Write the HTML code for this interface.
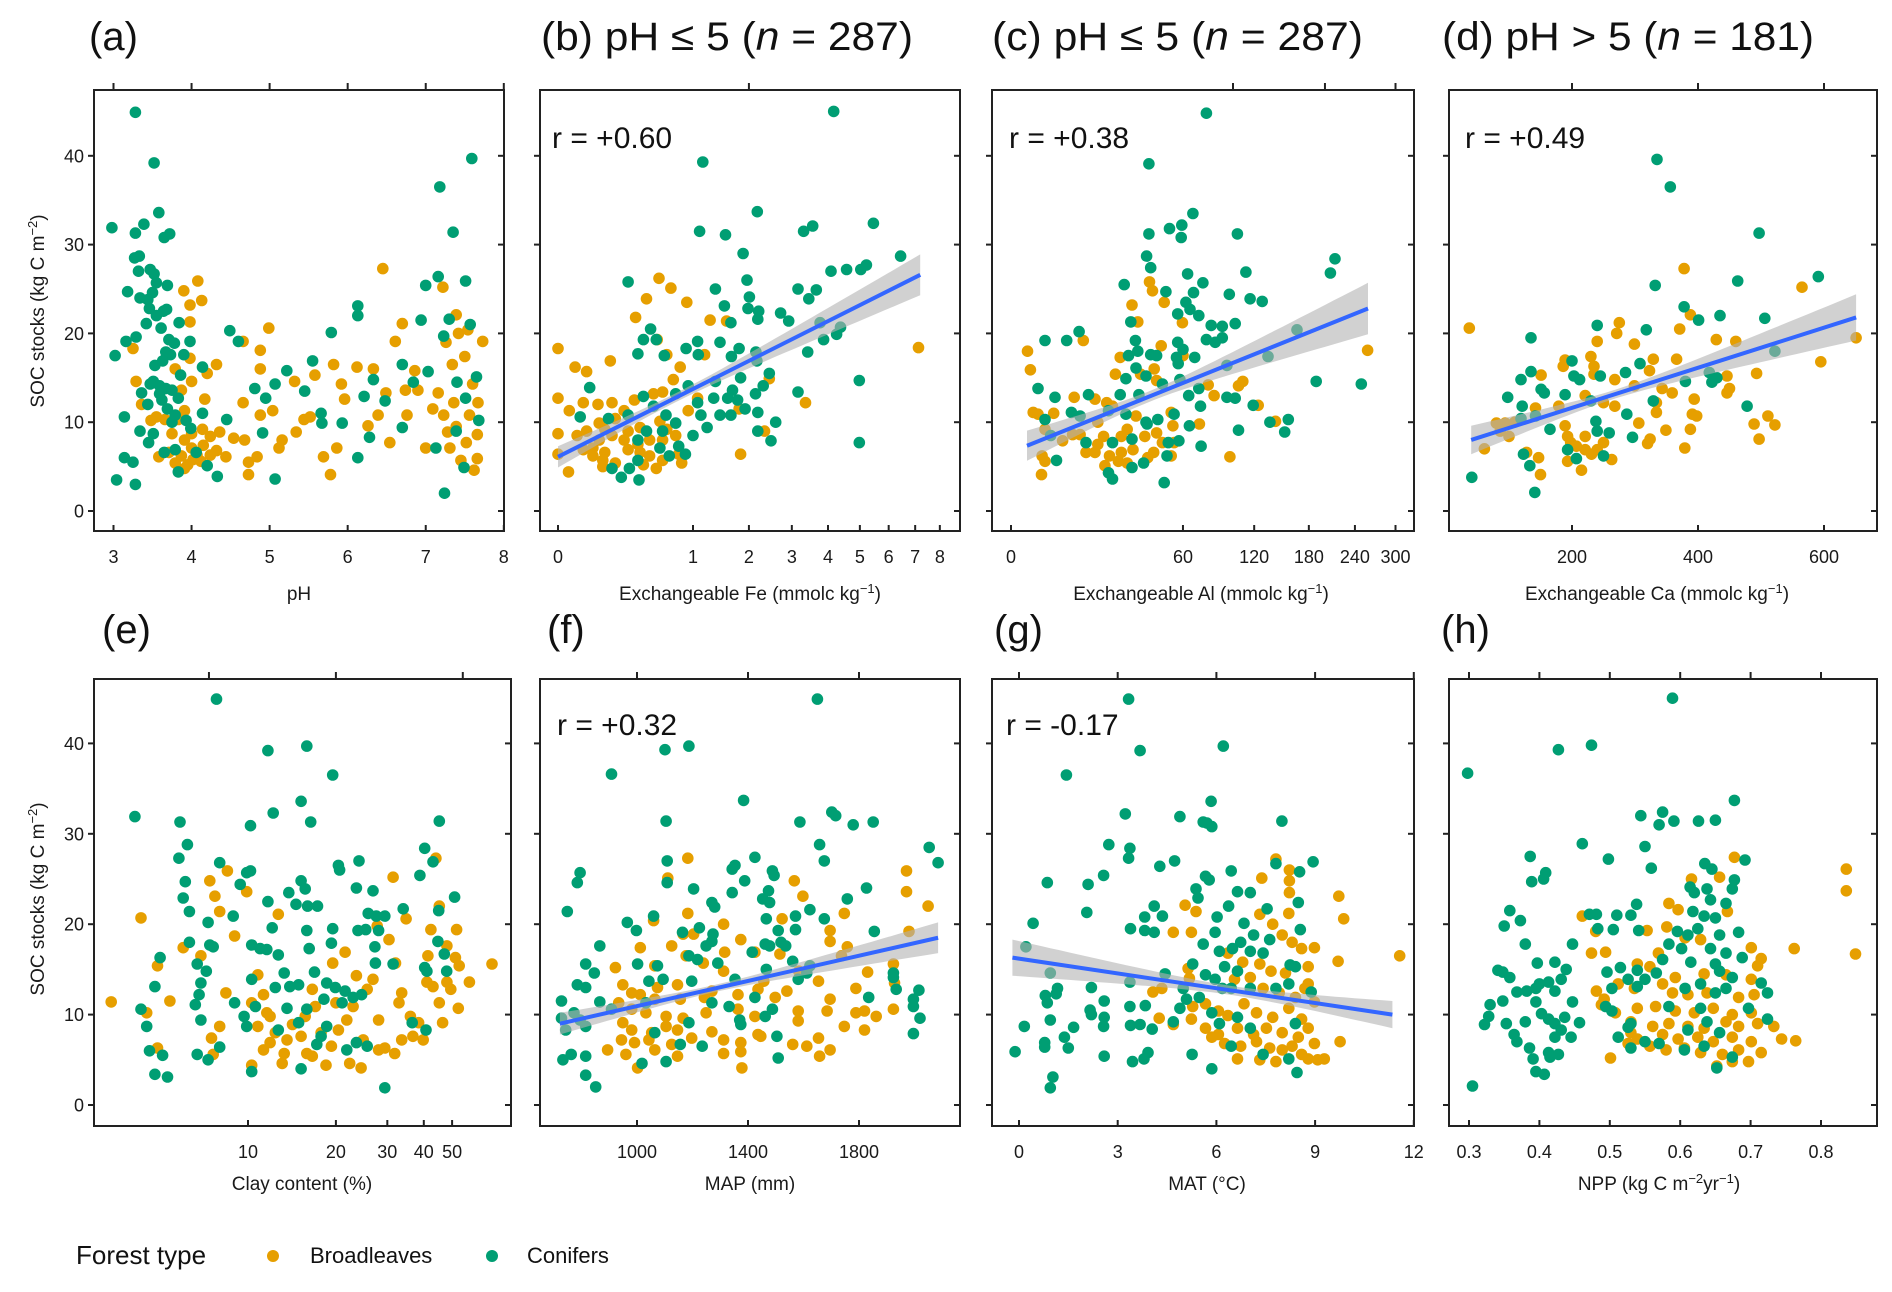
<!DOCTYPE html>
<html><head><meta charset="utf-8"><title>SOC stocks vs soil and climate variables</title>
<style>
html,body{margin:0;padding:0;background:#fff;}
svg{display:block;font-family:"Liberation Sans",Arial,sans-serif;}
</style></head>
<body>
<svg id="fig" width="1892" height="1292" viewBox="0 0 1892 1292" xmlns="http://www.w3.org/2000/svg">
<rect x="0" y="0" width="1892" height="1292" fill="#fff"/>
<g font-size="40" fill="#111">
<text x="89" y="50">(a)</text>
<text x="541" y="50" textLength="372" lengthAdjust="spacingAndGlyphs">(b) pH ≤ 5 (<tspan font-style="italic">n</tspan> = 287)</text>
<text x="992" y="50" textLength="371" lengthAdjust="spacingAndGlyphs">(c) pH ≤ 5 (<tspan font-style="italic">n</tspan> = 287)</text>
<text x="1442" y="50" textLength="372" lengthAdjust="spacingAndGlyphs">(d) pH &gt; 5 (<tspan font-style="italic">n</tspan> = 181)</text>
<text x="102" y="643">(e)</text>
<text x="547" y="643">(f)</text>
<text x="994" y="643">(g)</text>
<text x="1441" y="643">(h)</text>
</g>
<g font-size="30" fill="#111">
<text x="552" y="148">r = +0.60</text>
<text x="1009" y="148">r = +0.38</text>
<text x="1465" y="148">r = +0.49</text>
<text x="557" y="735">r = +0.32</text>
<text x="1006" y="735">r = -0.17</text>
</g>
<g font-size="19" fill="#1a1a1a" text-anchor="middle">
<text x="299" y="600">pH</text>
<text x="750" y="600">Exchangeable Fe (mmolc kg<tspan dy="-7" font-size="13">−1</tspan><tspan dy="7">)</tspan></text>
<text x="1201" y="600">Exchangeable Al (mmolc kg<tspan dy="-7" font-size="13">−1</tspan><tspan dy="7">)</tspan></text>
<text x="1657" y="600">Exchangeable Ca (mmolc kg<tspan dy="-7" font-size="13">−1</tspan><tspan dy="7">)</tspan></text>
<text x="302" y="1190">Clay content (%)</text>
<text x="750" y="1190">MAP (mm)</text>
<text x="1207" y="1190">MAT (°C)</text>
<text x="1659" y="1190">NPP (kg C m<tspan dy="-7" font-size="13">−2</tspan><tspan dy="7">yr</tspan><tspan dy="-7" font-size="13">−1</tspan><tspan dy="7">)</tspan></text>
<text transform="translate(44,311) rotate(-90)">SOC stocks (kg C m<tspan dy="-7" font-size="13">−2</tspan><tspan dy="7">)</tspan></text>
<text transform="translate(44,899) rotate(-90)">SOC stocks (kg C m<tspan dy="-7" font-size="13">−2</tspan><tspan dy="7">)</tspan></text>
</g>
<g>
<text x="76" y="1264" font-size="26" fill="#111">Forest type</text>
<circle cx="273" cy="1256" r="6" fill="#E69F00"/>
<text x="310" y="1263" font-size="22" fill="#111">Broadleaves</text>
<circle cx="492" cy="1256" r="6" fill="#009E73"/>
<text x="527" y="1263" font-size="22" fill="#111">Conifers</text>
</g>
<g id="plots"></g>
</svg>
<script>
// ---------- data (data units) ----------
const yTicks = [0,10,20,30,40];
const aTicks = [3,4,5,6,7,8];
const bTicks = [0,1,2,3,4,5,6,7,8];
const bTopTicks = [2];
const cTicks = [0,60,120,180,240,300];
const cTopTicks = [100,200,300];
const dTicks = [200,400,600];
const eTicks = [10,20,30,40,50];
const eTopTicks = [7.35,20,54.4];
const fTicks = [1000,1400,1800];
const gTicks = [0,3,6,9,12];
const hTicks = [0.3,0.4,0.5,0.6,0.7,0.8];

const aCon = [[3.28,44.9],[3.52,39.2],[2.98,31.9],[3.28,31.3],[3.39,32.3],[3.58,33.6],[3.65,30.8],[3.72,31.2],[3.27,28.5],[3.33,28.7],[3.32,27],[3.47,27.2],[3.52,26.7],[3.18,24.7],[3.34,24],[3.44,23.8],[3.5,24.6],[3.55,25.7],[3.69,25.4],[3.46,22.8],[3.55,22],[3.64,22.5],[3.68,22.7],[3.42,21.1],[3.61,20.6],[3.84,21.2],[3.16,19.1],[3.29,19.6],[3.71,19.3],[3.78,18.9],[3.98,19.1],[3.02,17.5],[3.67,17.9],[3.73,17.6],[3.53,16.4],[3.63,16.9],[3.9,17.6],[4.14,16.2],[3.51,14.6],[3.59,14.1],[3.47,14.3],[3.67,13.8],[3.86,15.3],[3.36,13.3],[3.62,12.5],[3.44,12],[3.69,11.5],[3.79,10.8],[3.14,10.6],[3.34,9],[3.51,8.7],[3.45,7.7],[3.65,6.6],[3.79,6.9],[3.14,6],[3.25,5.5],[3.04,3.5],[3.28,3],[3.83,4.4],[4.06,6.6],[4.2,5.1],[4.33,3.9],[4.49,20.3],[4.6,19.1],[4.14,11],[4.45,10.3],[4.81,13.8],[4.95,12.7],[5.07,14.3],[4.91,8.8],[5.07,3.6],[5.22,15.8],[5.55,16.9],[5.45,13.5],[5.66,11],[5.67,9.9],[5.79,20.1],[5.93,9.9],[6.13,22],[6.13,23.1],[6.13,6],[6.21,12.9],[6.28,8.3],[6.33,14.8],[6.48,12.4],[6.7,16.5],[6.7,9.4],[6.84,14.5],[6.94,21.5],[7,25.4],[7.03,15.7],[7.16,26.4],[7.18,36.5],[7.23,19.7],[7.24,2],[7.3,21.6],[7.35,31.4],[7.51,25.9],[7.57,21],[7.59,39.7],[7.65,15.1],[7.68,10.2],[7.13,7.1],[7.39,9],[7.49,4.9],[7.4,14.5],[7.51,12.7],[3.59,13.2],[3.75,13.6],[3.83,12.7],[3.93,10.2],[3.99,9.3],[3.75,10]];
const aBroad = [[3.25,18.3],[3.29,14.6],[3.36,12],[3.48,10.2],[3.58,6.1],[3.79,16],[3.9,24.8],[3.98,23.2],[3.98,21.3],[4.08,25.9],[4.13,23.7],[3.98,17.2],[4,14.6],[3.87,13.6],[3.91,11.3],[3.83,10.3],[3.75,8.7],[3.91,8],[4,7.1],[3.87,6.2],[3.95,5.2],[4.07,6.3],[4.15,7.4],[4.24,6.3],[4.32,16.5],[4.2,15.5],[4.17,12.6],[4.24,8.4],[4.36,8.9],[4.44,6.1],[4.54,8.2],[4.66,19.1],[4.66,12.2],[4.68,8],[4.73,5.5],[4.73,4.1],[4.88,10.8],[4.88,18.1],[4.88,16],[4.84,6.1],[4.99,20.6],[5.04,11.3],[5.12,7.1],[5.16,8],[5.32,14.6],[5.34,8.9],[5.44,10.3],[5.52,10.6],[5.58,15.3],[5.69,6.1],[5.78,4.1],[5.82,16.5],[5.86,7.1],[5.92,14.3],[5.96,12.6],[6.12,16.2],[6.26,9.6],[6.33,16],[6.39,10.8],[6.45,27.3],[6.49,13.3],[6.54,7.7],[6.61,19.1],[6.7,21.1],[6.74,13.6],[6.76,10.8],[6.86,15.8],[6.9,13.6],[7,7.1],[7.09,11.5],[7.16,13.3],[7.22,25.2],[7.26,19],[7.28,8.9],[7.34,16.5],[7.36,12.2],[7.39,22.1],[7.42,20],[7.45,5.7],[7.5,17.4],[7.54,20.4],[7.56,10.8],[7.6,14.3],[7.62,4.6],[7.66,8.6],[7.67,12.2],[7.73,19.1],[7.39,9.5],[7.31,7.1],[7.52,7.7],[7.66,5.9],[7.23,10.8],[4.02,5.8],[4.12,5.6],[3.91,4.8],[3.79,5.4],[3.71,6.6],[4.32,6.8],[4.14,9.2],[4,8.7],[3.66,10.3],[3.55,10.6]];

const bCon = [[4.17,45],[1.15,39.3],[1.1,31.5],[1.54,31.1],[2.18,33.7],[1.88,29],[1.96,26],[2.01,24.1],[1.98,22.8],[2.19,21.6],[2.21,22.5],[1.36,25],[1.52,23.1],[1.64,21.2],[3.31,31.5],[3.56,32.1],[3.16,25],[3.45,23.9],[3.66,24.9],[4.09,27],[4.57,27.2],[5.03,27.2],[5.22,27.7],[5.46,32.4],[6.44,28.7],[2.72,22.3],[2.92,21.4],[3.77,21.2],[3.87,19.3],[4.38,20.7],[4.26,19.9],[3.42,17.9],[3.16,13.4],[4.98,7.7],[4.98,14.7],[0.27,25.8],[0.47,20.5],[0.4,19.3],[0.53,19.3],[0.35,17.7],[0.62,17.5],[0.9,18.3],[1.07,19.1],[1.08,17.6],[1.44,19],[1.65,17.4],[1.8,18.3],[2.15,17.9],[2.17,16.9],[2.45,15.5],[2.31,14.1],[1.83,15],[1.67,13.6],[1.36,14.6],[1.33,12.7],[1.58,12.7],[1.77,12.5],[1.92,11.5],[2.19,11.1],[2.14,13.2],[2.6,10],[2.49,7.9],[2.19,9],[1.07,12.2],[0.93,14.1],[0.76,13.2],[1.12,10.8],[1.22,9.4],[1,8.5],[0.8,7.3],[0.89,6.4],[0.68,6.2],[0.57,7.1],[0.35,8],[0.35,5.7],[0.22,3.8],[0.36,3.5],[0.16,4.8],[0.28,4.8],[0.055,13.9],[0.027,10.6],[0.14,10.4],[0.27,10.8],[0.4,12.9],[0.5,11.8],[0.64,10.8],[0.76,9.9],[0.6,9],[0.43,9],[1.44,10.8],[1.64,10.8]];
const bBroad = [[0,18.3],[0,12.7],[0,8.7],[0,6.4],[0.006,4.4],[0.016,16.2],[0.045,15.7],[0.007,11.3],[0.035,12.2],[0.088,12],[0.15,16.9],[0.16,12.2],[0.33,21.8],[0.43,23.9],[0.56,26.2],[0.7,25.1],[0.91,23.5],[0.54,19.3],[0.65,17.6],[0.82,16.2],[0.73,14.8],[0.6,13.4],[0.5,13.2],[0.32,12.5],[0.24,11.3],[0.18,10.4],[0.093,9.9],[0.045,9],[0.093,8],[0.16,8.5],[0.27,9],[0.37,9.4],[0.46,8],[0.6,8],[0.76,8.5],[0.93,11.3],[1.07,12.7],[1.18,17.6],[1.27,21.5],[1.56,21.4],[1.8,11.5],[1.83,6.4],[2.34,9],[2.45,14.9],[3.36,12.2],[7.13,18.4],[0.067,7.1],[0.12,6.6],[0.11,5.7],[0.067,6.2],[0.035,6.9],[0.18,5.4],[0.27,6.9],[0.37,6.6],[0.46,6.2],[0.6,5.7],[0.8,6.4],[0.65,9.2],[0.57,10.1],[0.35,7.5],[0.24,8],[0.12,9.2],[0.02,8.5],[0.84,5.4],[0.53,4.8],[0.4,5.2],[0.11,5]];

const cCon = [[77.5,44.8],[38.6,39.1],[67.1,33.5],[51,31.8],[59.2,32.2],[58.8,30.8],[38.6,31.2],[104,31.2],[37.3,28.7],[39.6,27.4],[63.3,26.7],[74.7,25.7],[112,26.9],[213,28.4],[207,26.8],[26,25.5],[48.7,24.7],[67.6,24.6],[96.7,24.4],[116,23.9],[128,23.6],[62.1,23.5],[65,22.7],[56.4,22.2],[71.6,22],[29.1,21.3],[81.3,20.9],[90.6,20.8],[102,21.1],[9.4,20.2],[166,20.4],[2.35,19.2],[6.3,19.2],[31.4,19.2],[77.5,19.3],[90.6,19.5],[84.6,19],[56.4,19],[60,18.2],[28,17.5],[32.6,18],[39.6,17.6],[43,17.5],[55.6,17.3],[68.5,17.3],[134,17.4],[31.7,16.1],[94.6,16.4],[56.7,16.6],[26.8,14.9],[37,15.2],[46.5,14.3],[57.9,14.8],[71.6,13.8],[189,14.6],[249,14.3],[1.48,13.8],[3.93,12.8],[12.2,13.1],[24.2,13.1],[33.2,13.1],[64.1,13],[94.6,12.8],[102,12.7],[72.9,11.8],[119,11.9],[7.4,11.1],[9.7,10.7],[19.3,11.3],[26.8,10.9],[37.6,9.8],[43.7,10.3],[54,10.9],[64.6,9.6],[136,10],[156,10.3],[152,8.9],[105,9.1],[2.35,10.3],[3.2,8.5],[11.4,7.7],[20.9,7.7],[29.7,8.1],[37,10],[50.2,7.7],[57.2,7.9],[73.3,7.3],[49.4,6.2],[35.7,5.4],[29.7,4.9],[19.3,4.3],[20.9,3.6],[47.6,3.2],[4.2,5.7]];
const cBroad = [[0.55,18],[0.76,15.9],[1,11.1],[1.48,10.9],[3.7,11],[1.96,6.2],[2.35,5.6],[1.89,4.1],[2.35,9.2],[5.4,7.9],[8.1,12.8],[10.6,19.2],[9.7,8.6],[11.4,6.6],[14.3,12.6],[15.3,10],[17.4,8.4],[18.6,12.2],[20.9,11.8],[22.1,15.4],[24.2,17.3],[29.7,23.2],[32.6,21.3],[38.9,25.8],[40.6,24.8],[47.6,23.5],[59.6,21.2],[45.8,18.6],[41.6,16],[34.1,15.4],[43,14.7],[60,17.5],[78.9,14.2],[105,14.1],[109,14.6],[83.7,13],[124,11.9],[142,10.1],[72,9.8],[97.2,6.1],[258,18.1],[27.4,9.2],[31.7,10.7],[24.7,8.4],[36.3,8.4],[43,8.8],[46.5,7.7],[41.3,6.6],[30.2,6.9],[24.7,6.6],[19.7,6.2],[14.3,6.6],[15.3,7.5],[23.4,5.6],[27.4,5.4],[17.9,5.1],[52.1,6.2],[37.9,6],[53.2,9.6],[52.1,11.1],[54,7.7],[7.7,8.6]];

const dCon = [[335,39.6],[356,36.5],[497,31.3],[332,25.4],[463,25.9],[591,26.4],[378,23],[401,21.5],[435,22],[506,21.7],[240,20.9],[318,20.4],[135,19.5],[522,18],[200,16.9],[135,15.7],[119,14.8],[203,15.2],[212,14.8],[245,15.2],[285,15.6],[308,16.6],[380,14.6],[418,15.6],[422,14.5],[430,15],[151,13.7],[156,13.3],[98,12.8],[189,13.1],[230,12.4],[329,12.4],[478,11.8],[121,11.8],[142,10.7],[119,10.4],[165,9.2],[238,10.1],[240,9],[287,10.9],[259,8.8],[296,8.3],[193,6.9],[207,5.9],[250,6.2],[123,6.4],[133,5.1],[41,3.8],[141,2.1]];
const dBroad = [[37,20.6],[378,27.3],[565,25.2],[388,22.1],[371,20.5],[275,21.2],[271,20],[240,19.1],[299,18.8],[429,19.3],[460,19.1],[651,19.5],[230,17.4],[235,16.3],[329,17.1],[366,17.1],[595,16.8],[186,16.3],[189,17],[151,15.3],[235,15.4],[323,15.8],[446,15.2],[493,15.5],[268,14.8],[299,14.1],[343,13.8],[359,13.3],[394,12.6],[446,13.3],[450,13.8],[142,11.6],[179,11.8],[221,13],[250,12.2],[268,11.8],[334,11.1],[334,12.2],[306,9.9],[324,8.1],[349,9.1],[391,10.9],[398,10.7],[388,9.2],[379,7.1],[489,9.8],[511,10.7],[522,9.7],[497,8.1],[80,9.9],[94,9.9],[86,9],[100,8.4],[109,10],[61,7],[147,6],[150,4.1],[128,6.6],[189,9.6],[193,8.4],[198,7.7],[207,7.3],[221,8.4],[221,6.9],[240,6.9],[231,6.4],[193,5.6],[215,4.6],[250,7.7],[263,5.8],[320,7.6]];

const eCon = [[7.8,44.9],[11.7,39.2],[15.9,39.7],[19.5,36.5],[15.2,33.6],[12.2,32.3],[16.4,31.3],[4.1,31.9],[5.85,31.3],[10.2,30.9],[45.2,31.4],[40.3,28.4],[6.2,28.8],[5.8,27.3],[8,26.8],[43,26.9],[24,27],[20.4,26.5],[20.6,26],[38.8,25.4],[10.2,25.9],[9.9,25.7],[6.1,24.7],[9.4,24.4],[15.2,24.8],[23.5,24],[26.8,23.7],[13.8,23.5],[15.7,23.9],[6,22.9],[11.7,22.5],[14.6,22.2],[16,22],[17.3,22],[51,23],[6.3,21.4],[8.9,20.9],[7.3,20.2],[34,21.7],[45,21.5],[25.8,21.2],[27.5,20.9],[29.4,20.9],[12.1,19.6],[15.9,19.3],[19.5,19.5],[23.8,19.3],[25.3,19.4],[28,19.3],[6.3,18],[7.4,17.7],[7.6,17.5],[10.3,17.7],[11,17.3],[11.6,17.2],[12.7,16.6],[16.2,17.3],[19.3,17.9],[27.2,17.5],[44.7,18.1],[47,16.7],[5,16.3],[6.7,15.6],[7.2,14.8],[6.9,13.5],[10.3,13.9],[13.3,14.6],[16.9,14.7],[12.4,13],[13.9,13.1],[14.9,13.3],[18.6,13.5],[19.9,13],[21.5,12.6],[22.9,11.9],[24.5,12.2],[27.3,15.7],[31.4,15.6],[40.3,15.2],[41,14.8],[47.9,14.8],[4.8,13.1],[6.8,12.2],[6.6,11.1],[9,11.3],[9.7,9.8],[10.6,10.9],[13.6,10.7],[15.9,10.6],[18.2,11.7],[21,11.3],[4.3,10.6],[4.5,8.7],[6.9,9.4],[9.9,8.7],[12.7,8.3],[14.9,9.1],[17.2,6.7],[18.6,8.7],[21.8,6.1],[25.6,6.5],[36.5,9.1],[40.7,8.3],[4.6,6],[5.1,5.5],[6.7,5.6],[7.3,5],[8,6.4],[10.3,3.7],[15.2,4],[4.8,3.4],[5.3,3.1],[29.4,1.9],[23.5,6.9],[17.8,7.6]];
const eBroad = [[3.4,11.4],[4.3,20.7],[4.5,10.2],[4.9,15.4],[5.4,11.5],[4.9,6.3],[6,17.4],[6.9,16.5],[7.4,24.8],[7.7,23.1],[8,21.4],[8.5,25.9],[9,18.7],[9.9,23.6],[8.4,12.4],[8,8.7],[7.5,7.4],[7.6,5.6],[10.8,14.4],[12.7,21.1],[10.3,11.3],[10.3,4.4],[11.3,12.2],[11.6,10.2],[12.4,8],[11.9,6.9],[13.3,5.7],[14.2,8.9],[15.2,7.6],[15.7,9.8],[16.6,5.4],[17.8,8],[18.5,4.4],[19.3,6.5],[20.4,8.3],[21.5,16.9],[21.8,9.4],[22.9,10.9],[24.4,4.1],[24.8,7.2],[25.6,12.8],[26.8,13.9],[27.7,19.8],[28,9.4],[29.4,6.3],[30.4,18.3],[31.4,25.2],[31.8,5.7],[32.9,11.3],[33.6,12.4],[34.8,20.6],[36,9.8],[36.7,7.6],[38.4,9.1],[39.8,7.2],[41.3,16.5],[42.3,19.4],[43,13.1],[44,27.3],[45.2,22],[45.2,11.3],[46.4,9.1],[48,17.6],[49.5,12.8],[51.3,16.3],[51.8,19.4],[52.5,10.7],[52.9,15.4],[57.3,13.6],[68.5,15.6],[48,13.6],[41,13.6],[32,15.7],[19.5,15.7],[20,11.3],[17,10.9],[15.9,5.7],[13.6,7.2],[11.9,9.8],[10.8,8.7],[11.3,6.1],[13.1,4.6],[22.3,4.6],[28,6.1],[33.6,7.2],[23.5,14.3],[16.6,12.8]];

const fCon = [[1650,44.9],[1101,39.3],[1187,39.7],[908,36.6],[1384,33.7],[1105,31.4],[1587,31.3],[1702,32.4],[1716,32],[1779,31],[1851,31.3],[1658,28.8],[1675,27],[2053,28.5],[2085,26.8],[1109,27],[1109,24.6],[1425,27.4],[1343,26.1],[1353,26.5],[1488,25.9],[1494,25.4],[795,25.7],[785,24.6],[1204,23.9],[1388,24.8],[1827,24],[1343,23.5],[1453,22.8],[1474,23.7],[1758,22.8],[749,21.4],[1270,22.4],[1280,21.9],[1478,22.4],[1571,20.9],[1623,21.6],[1675,20.6],[965,20.2],[998,19.3],[1060,20.9],[1164,19.1],[1225,19.6],[1274,18.9],[1466,20.6],[1509,19.3],[1571,19.4],[1855,19.2],[1249,17.6],[1270,18.1],[1462,17.8],[1478,17.6],[1519,18],[1536,17.6],[866,17.6],[815,15.6],[846,14.6],[1002,15.6],[1074,15.4],[1187,16.5],[1218,16.1],[1291,15.7],[1415,16.9],[1561,15.9],[1623,15.4],[1612,14.6],[1924,14.6],[1924,14.1],[785,13.3],[815,13],[1043,13.7],[1094,13.9],[1197,13.7],[1353,13.9],[1466,15],[1581,13.9],[1934,12.8],[2016,12.7],[728,11.5],[866,11.4],[773,10.2],[908,10.6],[1032,11.3],[1270,11.3],[1332,10.9],[1425,11.9],[1488,10.6],[1835,11.9],[1996,11.7],[1996,10.9],[2020,9.6],[728,9.6],[795,9.4],[1187,9.1],[1370,9.4],[1462,9.8],[1374,8.9],[1996,7.9],[743,8.3],[815,8.7],[733,5],[763,5.6],[815,3.3],[851,2],[815,5.4],[1018,4.6],[1105,4.8],[1235,6.5],[1504,7.6],[1509,5.2],[1156,6.7],[1064,8]];
const fBroad = [[1183,27.3],[1111,25.1],[1567,24.8],[1598,23.1],[1971,25.9],[1971,23.6],[2049,22],[1183,21.2],[1523,20.6],[1747,21.2],[1312,20],[1060,20.4],[1696,19.3],[1980,19.2],[1166,18.9],[1204,18.9],[1374,18.3],[1696,18.1],[1758,17.5],[1012,17.4],[1125,17.6],[1316,16.9],[1425,16.9],[1515,16.7],[1177,16.5],[1737,16.5],[1924,15.6],[922,15.2],[1064,15.4],[1239,15.7],[1312,14.8],[1457,13.7],[1583,14.8],[1831,14.7],[1654,13.7],[949,13.3],[981,12.4],[1074,13],[1146,13.3],[1270,12.6],[1364,12.2],[1436,12.8],[1540,12.6],[1789,12.9],[1928,13.5],[1012,12.2],[1064,11.7],[1156,11.7],[1243,11.9],[1498,11.9],[1696,11.7],[934,11.3],[981,10.6],[1032,10.2],[1105,9.8],[1166,9.6],[1249,10.2],[1364,10.6],[1425,9.8],[1581,10.4],[1685,10.4],[1789,10.2],[1820,10.4],[1862,9.8],[1924,10.6],[949,9.1],[981,8.3],[1053,8],[1105,8.7],[1146,8.3],[1270,8.1],[1436,7.8],[1581,9.3],[1747,8.7],[1820,8.3],[944,7.2],[991,6.9],[1043,7.2],[1125,6.7],[1197,7.4],[1312,7.2],[1374,6.9],[1561,6.7],[1654,7.4],[1696,6.1],[1658,5.4],[1612,6.5],[894,6.1],[960,5.6],[1002,4.1],[1064,6.1],[1146,5.4],[1312,5.7],[1378,4.1],[1374,5.9],[1446,7.6]];

const gCon = [[3.33,44.9],[6.21,39.7],[3.68,39.2],[1.44,36.5],[5.84,33.6],[3.23,32.2],[4.89,31.9],[5.6,31.3],[5.71,31.2],[5.86,30.8],[7.99,31.4],[2.73,28.8],[3.37,28.4],[3.33,27.3],[4.28,26.4],[4.73,27],[6.45,25.9],[7.81,26.7],[8.53,25.8],[8.94,26.9],[2.57,25.4],[0.86,24.6],[2.1,24.4],[5.67,25.3],[5.78,24.9],[6.64,23.6],[7.03,23.5],[5.38,23.9],[5.44,22.9],[8.49,22.4],[2.06,21.3],[0.43,20.1],[4.11,22],[3.82,20.8],[4.36,20.9],[6.02,20.8],[6.37,22],[7.54,21.7],[3.39,19.5],[3.82,19.3],[4.11,19.1],[5.96,19.1],[6.84,20.1],[7.13,18.8],[7.62,18.3],[8.55,19.4],[5.6,17.8],[6.09,17],[6.49,17.3],[6.74,18],[7.03,17],[7.42,16.8],[8.24,15.5],[8.4,15.3],[5.28,15.6],[5.67,14.4],[5.96,13.9],[6.25,15.3],[6.64,14.8],[0.95,14.6],[3.37,13.6],[4.44,14.5],[4.99,12.9],[5.09,11.7],[5.48,11.9],[6.18,12.9],[7.03,12.9],[7.81,12.9],[8.2,13.4],[8.88,12.5],[0.21,17.5],[1.17,12.9],[1.13,12.3],[2.2,13],[0.8,12.1],[0.86,11.3],[2.59,11.5],[3.37,10.9],[3.84,11],[4.89,10.7],[5.86,10.2],[6.64,9.7],[2.16,10.5],[2.2,10],[2.59,9.7],[0.16,8.7],[1.66,8.6],[0.95,9.4],[2.57,8.7],[3.39,8.8],[3.68,8.9],[4.05,8.4],[4.69,9.2],[6.09,9],[7.03,8.5],[8.4,9],[0.78,6.9],[0.78,6.4],[1.38,7.5],[1.5,6.3],[-0.12,5.9],[2.59,5.4],[3.45,4.8],[3.8,5.1],[3.92,5.8],[5.26,5.6],[5.86,4],[6.45,6.5],[8.45,3.6],[8.2,5.1],[1.03,3.1],[0.95,1.9],[7.42,5.6],[6.45,12.9]];
const gBroad = [[7.81,27.2],[8.22,26],[8.22,24.8],[7.38,25.1],[8.22,23.5],[9.72,23.1],[9.87,20.6],[5.05,22.1],[5.38,21.4],[5.24,19.1],[4.69,19.1],[7.32,21.1],[7.71,20],[8.2,21.2],[8,18.8],[8.3,18],[8.59,17.3],[8.98,17.4],[9.7,15.9],[11.57,16.5],[4.07,12.5],[4.34,12.9],[5.14,15.1],[5.18,14],[6.35,16.8],[6.8,15.8],[7.32,15.6],[7.66,14.8],[8.1,14.6],[8.79,15.3],[8.79,13.4],[6.55,13.9],[7.03,14.1],[7.42,12.9],[7.91,12.4],[8.4,11.9],[8.69,12.9],[5.28,10.9],[5.67,11.2],[6.06,10.4],[6.35,9.9],[6.84,11.2],[7.22,10.2],[7.71,9.7],[8.2,10.7],[8.59,9.5],[8.98,11.4],[4.26,9.6],[4.69,8.9],[5.24,9.5],[5.67,8.5],[6.06,7.8],[6.64,8.5],[7.13,7.8],[7.52,8.5],[8,8],[8.49,7.5],[8.79,8.5],[5.86,7.5],[6.25,6.8],[6.74,6.5],[7.22,7],[7.62,6.3],[8,6.1],[8.3,6.5],[8.59,5.6],[8.98,6.8],[9.76,7],[7.32,5],[7.81,4.8],[8.79,5.1],[9.08,5],[9.28,5.1],[6.64,5.1]];

const hCon = [[0.589,45],[0.298,36.7],[0.427,39.3],[0.474,39.8],[0.677,33.7],[0.544,32],[0.575,32.4],[0.591,31.4],[0.57,31],[0.626,31.4],[0.65,31.5],[0.461,28.9],[0.55,28.6],[0.498,27.2],[0.559,26.2],[0.387,27.5],[0.389,24.7],[0.406,25],[0.409,25.7],[0.635,26.7],[0.645,26.1],[0.692,27.1],[0.677,24.9],[0.674,23.9],[0.614,24.1],[0.62,23.5],[0.638,23.9],[0.643,22.7],[0.65,20.7],[0.665,22.3],[0.538,22.2],[0.471,21.1],[0.481,21.1],[0.51,21],[0.53,21],[0.618,21.4],[0.634,20.9],[0.358,21.5],[0.35,19.8],[0.373,20.4],[0.483,19.5],[0.505,19.4],[0.541,19.3],[0.596,19.2],[0.611,18.8],[0.625,19.5],[0.656,18.8],[0.683,19.1],[0.38,17.8],[0.447,17.8],[0.584,17.8],[0.602,17.3],[0.643,17.3],[0.665,16.8],[0.688,16.3],[0.397,15.7],[0.422,15.8],[0.575,16.1],[0.615,15.8],[0.65,15.6],[0.341,14.9],[0.348,14.7],[0.358,14.1],[0.438,15],[0.496,14.7],[0.515,15.2],[0.539,14.9],[0.566,14.6],[0.656,14.8],[0.674,14.1],[0.431,13.9],[0.4,13.4],[0.413,13.6],[0.526,13.9],[0.55,13.9],[0.629,13.4],[0.665,12.9],[0.715,13.5],[0.724,12.4],[0.368,12.5],[0.382,12.6],[0.395,12.9],[0.422,12.6],[0.503,12.9],[0.539,13.1],[0.607,12.9],[0.65,12.4],[0.348,11.5],[0.33,11.1],[0.395,11.4],[0.447,11.4],[0.494,10.9],[0.503,10.4],[0.584,10.9],[0.629,10.7],[0.697,10.7],[0.328,9.8],[0.38,9.2],[0.403,10.1],[0.413,9.5],[0.422,9],[0.436,9.7],[0.457,9.1],[0.53,9],[0.638,9.2],[0.724,9.5],[0.322,8.9],[0.353,9],[0.431,8.3],[0.526,8.6],[0.611,8.3],[0.656,8],[0.364,7.8],[0.422,7.5],[0.445,7.5],[0.512,7.5],[0.55,7],[0.634,6.5],[0.368,7],[0.386,6.3],[0.413,5.8],[0.427,5.6],[0.53,6.3],[0.57,6.8],[0.606,6.1],[0.652,4.1],[0.391,5.1],[0.415,5.3],[0.395,3.7],[0.407,3.4],[0.305,2.1],[0.674,5.3]];
const hBroad = [[0.836,26.1],[0.836,23.7],[0.849,16.7],[0.762,17.3],[0.677,27.4],[0.616,25],[0.656,25.2],[0.584,22.3],[0.597,21.6],[0.461,20.9],[0.667,21.4],[0.48,19.2],[0.553,19.3],[0.581,19.7],[0.474,16.8],[0.494,16.9],[0.569,16.8],[0.607,18.5],[0.629,18.3],[0.701,17.4],[0.715,16.2],[0.71,15.4],[0.539,15.6],[0.557,15.3],[0.593,14.1],[0.634,14.5],[0.665,14.4],[0.701,13.9],[0.481,12.6],[0.492,11.7],[0.488,11.1],[0.512,13.4],[0.535,12.9],[0.575,13.4],[0.589,12.4],[0.611,12.2],[0.638,12.4],[0.683,11.9],[0.705,12.2],[0.508,10.2],[0.539,10.7],[0.565,10.9],[0.593,10.4],[0.62,10.2],[0.647,10.7],[0.674,10],[0.701,10.2],[0.53,9.2],[0.561,8.7],[0.584,9],[0.611,8.7],[0.634,8.5],[0.665,9.2],[0.683,8.7],[0.71,9],[0.733,8.7],[0.53,8],[0.539,7.3],[0.575,7.8],[0.597,7.3],[0.625,7.5],[0.647,7],[0.674,7.5],[0.701,7],[0.744,7.3],[0.764,7.1],[0.526,6.8],[0.557,6.5],[0.58,6.1],[0.606,6.3],[0.629,5.8],[0.66,5.6],[0.683,6.1],[0.715,5.8],[0.501,5.2],[0.652,4.3],[0.674,4.8],[0.697,4.8]];

// regression fits: [x0, y0, x1, y1] and CI half-widths [start, min, end]
const fitB = [0,6.1,7.2,26.6];   const seB = [1.2,0.5,2.3];
const fitC = [0.52,7.35,258.6,22.8]; const seC = [1.7,0.6,2.9];
const fitD = [40,8.0,651,21.8];  const seD = [1.6,0.5,2.6];
const fitF = [722,9.0,2085,18.5]; const seF = [1.2,0.4,1.7];
const fitG = [-0.2,16.3,11.35,10.0]; const seG = [2.0,0.5,1.5];

// ---------- layout / scales ----------
const NS = 'http://www.w3.org/2000/svg';
const fyTop = v => 511 - v*8.88;
const fyBot = v => 1105 - v*9.04;
const panels = [
 {id:'a', fr:[94,90,504,531], fy:fyTop, fx:v=>113.5+(v-3)*78.06, bt:aTicks, tt:aTicks, con:aCon, br:aBroad, ylab:true},
 {id:'b', fr:[540,90,960,531], fy:fyTop, fx:v=>558+Math.sqrt(Math.max(v,0))*135, bt:bTicks, tt:bTopTicks, con:bCon, br:bBroad, fit:fitB, se:seB},
 {id:'c', fr:[992,90,1414,531], fy:fyTop, fx:v=>1011+Math.sqrt(Math.max(v,0))*22.2, bt:cTicks, tt:cTopTicks, con:cCon, br:cBroad, fit:fitC, se:seC},
 {id:'d', fr:[1449,90,1877,531], fy:fyTop, fx:v=>1446+v*0.63, bt:dTicks, tt:dTicks, con:dCon, br:dBroad, fit:fitD, se:seD},
 {id:'e', fr:[94,679,511,1126], fy:fyBot, fx:v=>248+Math.log10(v/10)*292, bt:eTicks, tt:eTopTicks, con:eCon, br:eBroad, ylab:true, noTopLabels:true},
 {id:'f', fr:[540,679,960,1126], fy:fyBot, fx:v=>637+(v-1000)*0.2775, bt:fTicks, tt:fTicks, con:fCon, br:fBroad, fit:fitF, se:seF},
 {id:'g', fr:[992,679,1414,1126], fy:fyBot, fx:v=>1019+v*32.9, bt:gTicks, tt:gTicks, con:gCon, br:gBroad, fit:fitG, se:seG},
 {id:'h', fr:[1449,679,1877,1126], fy:fyBot, fx:v=>1469+(v-0.3)*704, bt:hTicks, tt:hTicks, con:hCon, br:hBroad}
];
const root = document.getElementById('plots');
function mk(tag, attrs, parent){
  const el = document.createElementNS(NS, tag);
  for (const k in attrs) el.setAttribute(k, attrs[k]);
  parent.appendChild(el);
  return el;
}
panels.forEach(p => {
  const [L,T,R,B] = p.fr;
  const g = mk('g', {}, root);
  
  
  // ribbon + line drawn first? draw points first, then fit on top
  const pts = mk('g', {}, g);
  
  
  p.br.forEach(d => {
    const c = mk('circle', {cx:p.fx(d[0]).toFixed(1), cy:p.fy(d[1]).toFixed(1), r:5.8, fill:'#E69F00'}, pts);
    
    
  });
  p.con.forEach(d => {
    const c = mk('circle', {cx:p.fx(d[0]).toFixed(1), cy:p.fy(d[1]).toFixed(1), r:5.8, fill:'#009E73'}, pts);
    
    
  });
  if (p.fit) {
    const [x0v,y0v,x1v,y1v] = p.fit;
    const t0 = p.fx(x0v), t1 = p.fx(x1v);
    const [h0,hm,h1] = p.se;
    const r = Math.sqrt((h0*h0-hm*hm)/(h1*h1-hm*hm));
    const tm = (t0 + r*t1)/(1+r);
    const k = (h1*h1-hm*hm)/((t1-tm)*(t1-tm));
    const up = [], dn = [];
    for (let i=0;i<=40;i++){
      const t = t0 + (t1-t0)*i/40;
      const yv = y0v + (y1v-y0v)*(t-t0)/(t1-t0);
      const h = Math.sqrt(hm*hm + k*(t-tm)*(t-tm));
      up.push(t.toFixed(1)+','+p.fy(yv+h).toFixed(1));
      dn.unshift(t.toFixed(1)+','+p.fy(yv-h).toFixed(1));
    }
    const rib = mk('polygon', {points: up.concat(dn).join(' '), fill:'#b3b3b3', 'fill-opacity':0.6}, g);
    
    
    const ln = mk('line', {x1:t0, y1:p.fy(y0v), x2:t1, y2:p.fy(y1v), stroke:'#3366FF', 'stroke-width':4}, g);
    
    
  }
  const fr = mk('rect', {x:L, y:T, width:R-L, height:B-T, fill:'none', stroke:'#222', 'stroke-width':2}, g);
  
  
  // y ticks
  yTicks.forEach(v => {
    const y = p.fy(v);
    const t1 = mk('line', {x1:L-6, y1:y, x2:L, y2:y, stroke:'#222', 'stroke-width':2}, g);
    
    
    const t2 = mk('line', {x1:R-6, y1:y, x2:R, y2:y, stroke:'#222', 'stroke-width':2}, g);
    
    
    if (p.ylab) {
      const tx = mk('text', {x:84, y:y+6.5, 'font-size':18, 'text-anchor':'end', fill:'#1a1a1a'}, g);
      
      
      tx.textContent = String(v);
    }
  });
  // x ticks bottom with labels
  const labY = B + 32;
  p.bt.forEach(v => {
    const x = p.fx(v);
    const tk = mk('line', {x1:x, y1:B-6, x2:x, y2:B, stroke:'#222', 'stroke-width':2}, g);
    
    
    const tx = mk('text', {x:x, y:labY, 'font-size':18, 'text-anchor':'middle', fill:'#1a1a1a'}, g);
    
    
    tx.textContent = String(v);
  });
  p.tt.forEach(v => {
    const x = p.fx(v);
    const tk = mk('line', {x1:x, y1:T-7, x2:x, y2:T, stroke:'#222', 'stroke-width':2}, g);
    
    
  });
});
</script>
</body></html>
